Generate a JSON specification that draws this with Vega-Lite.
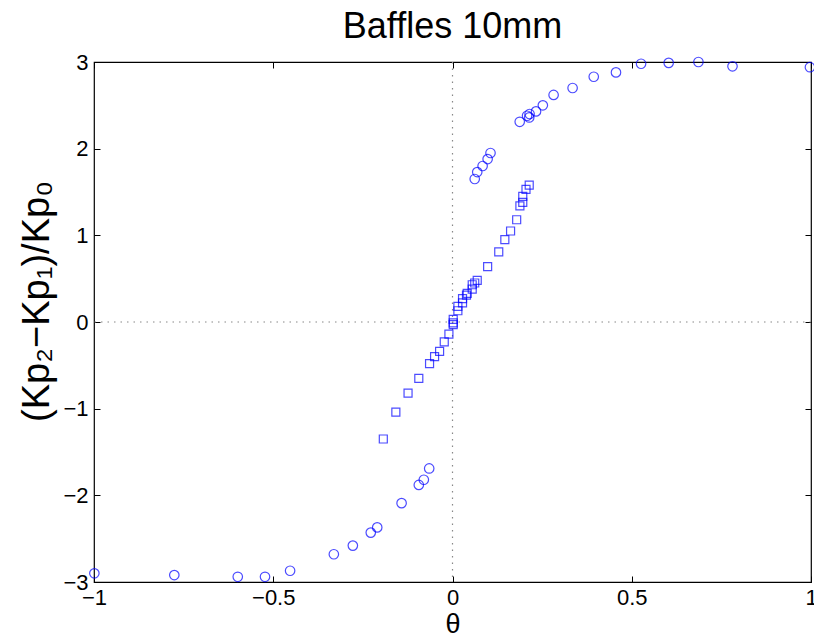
{
  "$schema": "https://vega.github.io/schema/vega-lite/v6.json",
  "width": 717,
  "height": 520,
  "autosize": {"type": "none"},
  "padding": {"left": 94, "top": 62, "right": 3, "bottom": 60},
  "background": "white",
  "title": {"text": "Baffles 10mm", "font": "Liberation Sans", "fontSize": 36, "fontWeight": "normal", "color": "black", "anchor": "middle", "offset": 5},
  "config": {
    "view": {"stroke": "black", "strokeWidth": 1.2},
    "axis": {
      "domain": false, "grid": false, "ticks": true, "tickColor": "black", "tickSize": -6, "tickWidth": 1,
      "labelFont": "Liberation Sans", "labelFontSize": 22, "labelColor": "black", "labelFlush": false, "format": "~g",
      "titleFont": "Liberation Sans", "titleFontWeight": "normal", "titleColor": "black"
    }
  },
  "datasets": {
    "pts": [
      {"theta": -0.999, "ratio": -2.90, "series": "circle"},
      {"theta": -0.776, "ratio": -2.92, "series": "circle"},
      {"theta": -0.599, "ratio": -2.94, "series": "circle"},
      {"theta": -0.523, "ratio": -2.94, "series": "circle"},
      {"theta": -0.453, "ratio": -2.87, "series": "circle"},
      {"theta": -0.331, "ratio": -2.68, "series": "circle"},
      {"theta": -0.278, "ratio": -2.58, "series": "circle"},
      {"theta": -0.228, "ratio": -2.43, "series": "circle"},
      {"theta": -0.210, "ratio": -2.37, "series": "circle"},
      {"theta": -0.142, "ratio": -2.09, "series": "circle"},
      {"theta": -0.094, "ratio": -1.88, "series": "circle"},
      {"theta": -0.080, "ratio": -1.82, "series": "circle"},
      {"theta": -0.065, "ratio": -1.69, "series": "circle"},
      {"theta": 0.062, "ratio": 1.65, "series": "circle"},
      {"theta": 0.069, "ratio": 1.73, "series": "circle"},
      {"theta": 0.084, "ratio": 1.80, "series": "circle"},
      {"theta": 0.098, "ratio": 1.88, "series": "circle"},
      {"theta": 0.106, "ratio": 1.95, "series": "circle"},
      {"theta": 0.1875, "ratio": 2.31, "series": "circle"},
      {"theta": 0.208, "ratio": 2.38, "series": "circle"},
      {"theta": 0.215, "ratio": 2.40, "series": "circle"},
      {"theta": 0.214, "ratio": 2.36, "series": "circle"},
      {"theta": 0.233, "ratio": 2.43, "series": "circle"},
      {"theta": 0.252, "ratio": 2.50, "series": "circle"},
      {"theta": 0.282, "ratio": 2.62, "series": "circle"},
      {"theta": 0.335, "ratio": 2.70, "series": "circle"},
      {"theta": 0.394, "ratio": 2.83, "series": "circle"},
      {"theta": 0.456, "ratio": 2.88, "series": "circle"},
      {"theta": 0.526, "ratio": 2.98, "series": "circle"},
      {"theta": 0.603, "ratio": 2.99, "series": "circle"},
      {"theta": 0.686, "ratio": 3.00, "series": "circle"},
      {"theta": 0.781, "ratio": 2.95, "series": "circle"},
      {"theta": 0.997, "ratio": 2.94, "series": "circle"},
      {"theta": -0.193, "ratio": -1.35, "series": "square"},
      {"theta": -0.158, "ratio": -1.04, "series": "square"},
      {"theta": -0.124, "ratio": -0.82, "series": "square"},
      {"theta": -0.094, "ratio": -0.65, "series": "square"},
      {"theta": -0.064, "ratio": -0.48, "series": "square"},
      {"theta": -0.050, "ratio": -0.40, "series": "square"},
      {"theta": -0.036, "ratio": -0.34, "series": "square"},
      {"theta": -0.023, "ratio": -0.23, "series": "square"},
      {"theta": -0.010, "ratio": -0.14, "series": "square"},
      {"theta": 0.002, "ratio": -0.03, "series": "square"},
      {"theta": 0.002, "ratio": -0.01, "series": "square"},
      {"theta": 0.002, "ratio": 0.03, "series": "square"},
      {"theta": 0.015, "ratio": 0.13, "series": "square"},
      {"theta": 0.015, "ratio": 0.18, "series": "square"},
      {"theta": 0.028, "ratio": 0.22, "series": "square"},
      {"theta": 0.028, "ratio": 0.27, "series": "square"},
      {"theta": 0.039, "ratio": 0.31, "series": "square"},
      {"theta": 0.041, "ratio": 0.33, "series": "square"},
      {"theta": 0.055, "ratio": 0.38, "series": "square"},
      {"theta": 0.055, "ratio": 0.43, "series": "square"},
      {"theta": 0.062, "ratio": 0.45, "series": "square"},
      {"theta": 0.069, "ratio": 0.48, "series": "square"},
      {"theta": 0.098, "ratio": 0.64, "series": "square"},
      {"theta": 0.129, "ratio": 0.81, "series": "square"},
      {"theta": 0.146, "ratio": 0.95, "series": "square"},
      {"theta": 0.162, "ratio": 1.05, "series": "square"},
      {"theta": 0.179, "ratio": 1.18, "series": "square"},
      {"theta": 0.188, "ratio": 1.34, "series": "square"},
      {"theta": 0.196, "ratio": 1.38, "series": "square"},
      {"theta": 0.196, "ratio": 1.45, "series": "square"},
      {"theta": 0.205, "ratio": 1.53, "series": "square"},
      {"theta": 0.214, "ratio": 1.58, "series": "square"}
    ]
  },
  "resolve": {"axis": {"x": "independent", "y": "independent"}},
  "layer": [
    {
      "data": {"values": [{"zero": 0}]},
      "mark": {"type": "rule", "color": "#888888", "strokeDash": [1.5, 5], "strokeWidth": 1.2},
      "encoding": {
        "y": {"field": "zero", "type": "quantitative", "scale": {"domain": [-3, 3], "nice": false, "zero": false},
              "axis": {"orient": "right", "labels": false, "title": null, "values": [-3, -2, -1, 0, 1, 2, 3]}}
      }
    },
    {
      "data": {"values": [{"zero": 0}]},
      "mark": {"type": "rule", "color": "#888888", "strokeDash": [1.5, 5], "strokeWidth": 1.2},
      "encoding": {
        "x": {"field": "zero", "type": "quantitative", "scale": {"domain": [-1, 1], "nice": false, "zero": false},
              "axis": {"orient": "top", "labels": false, "title": null, "values": [-1, -0.5, 0, 0.5, 1]}}
      }
    },
    {
      "data": {"name": "pts"},
      "mark": {"type": "point", "filled": false, "strokeWidth": 1.2, "clip": false},
      "encoding": {
        "x": {"field": "theta", "type": "quantitative", "scale": {"domain": [-1, 1], "nice": false, "zero": false},
              "axis": {"orient": "bottom", "values": [-1, -0.5, 0, 0.5, 1], "labelPadding": 11, "title": "θ", "titleFontSize": 27, "titlePadding": 3}},
        "y": {"field": "ratio", "type": "quantitative", "scale": {"domain": [-3, 3], "nice": false, "zero": false},
              "axis": {"orient": "left", "values": [-3, -2, -1, 0, 1, 2, 3], "labelPadding": 12, "title": "(Kp₂−Kp₁)/Kp₀", "titleFontSize": 38, "titlePadding": 6, "titleY": 239}},
        "shape": {"field": "series", "type": "nominal", "scale": {"domain": ["circle", "square"], "range": ["circle", "square"]}, "legend": null},
        "size": {"field": "series", "type": "nominal", "scale": {"domain": ["circle", "square"], "range": [90, 64]}, "legend": null},
        "color": {"value": "#0000ff"}
      }
    }
  ]
}
